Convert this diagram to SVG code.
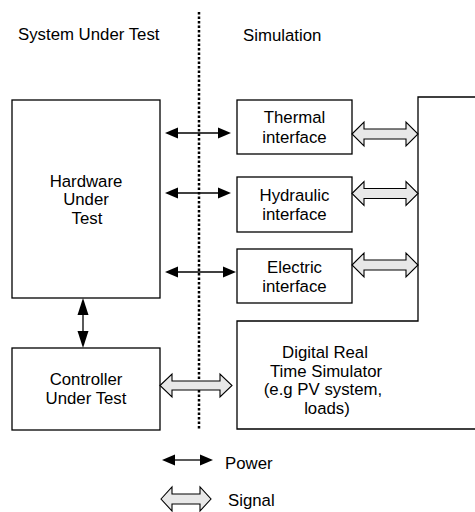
<svg xmlns="http://www.w3.org/2000/svg" width="475" height="512" viewBox="0 0 475 512">
<style>
.box{fill:#fff;stroke:#000;stroke-width:1.3}
.t{font-family:"Liberation Sans",Arial,sans-serif;font-size:16.8px;fill:#000}
.c{text-anchor:middle}
.pw{stroke:#000;stroke-width:1.3;fill:none}
.sig{fill:#e8e8e8;stroke:#000;stroke-width:1.1;stroke-linejoin:miter}
.hd{fill:#000}
</style>
<rect width="475" height="512" fill="#fff"/>
<g id="headers">
<text class="t" x="18" y="40">System Under Test</text>
<text class="t" x="243" y="41">Simulation</text>
</g>
<line id="divider" x1="199" y1="12" x2="199" y2="430" stroke="#000" stroke-width="2.5" stroke-dasharray="2.5 2"/>
<g id="hardware">
<rect class="box" x="12" y="100" width="148" height="198"/>
<text class="t c" x="86" y="187">Hardware</text>
<text class="t c" x="86" y="205">Under</text>
<text class="t c" x="87" y="224">Test</text>
</g>
<g id="controller">
<rect class="box" x="12" y="348" width="148" height="82"/>
<text class="t c" x="86" y="385">Controller</text>
<text class="t c" x="86" y="404">Under Test</text>
</g>
<g id="thermal">
<rect class="box" x="237" y="100" width="115" height="54"/>
<text class="t c" x="294.5" y="123">Thermal</text>
<text class="t c" x="294.5" y="143">interface</text>
</g>
<g id="hydraulic">
<rect class="box" x="237" y="177" width="115" height="55"/>
<text class="t c" x="294.5" y="201">Hydraulic</text>
<text class="t c" x="294.5" y="220">interface</text>
</g>
<g id="electric">
<rect class="box" x="237" y="249" width="115" height="54"/>
<text class="t c" x="294.5" y="273">Electric</text>
<text class="t c" x="294.5" y="292">interface</text>
</g>
<g id="simulator">
<polygon class="box" points="418,97 477,97 477,429 237,429 237,321 418,321"/>
<text class="t c" x="325" y="358">Digital Real</text>
<text class="t c" x="326" y="377">Time Simulator</text>
<text class="t c" x="323" y="395">(e.g PV system,</text>
<text class="t c" x="327" y="414">loads)</text>
</g>
<g id="connectors">
<line class="pw" x1="175" y1="133" x2="221" y2="133"/>
<polygon class="hd" points="165,133 178,127.5 178,138.5"/>
<polygon class="hd" points="231,133 218,127.5 218,138.5"/>
<line class="pw" x1="175" y1="193" x2="221" y2="193"/>
<polygon class="hd" points="165,193 178,187.5 178,198.5"/>
<polygon class="hd" points="231,193 218,187.5 218,198.5"/>
<line class="pw" x1="175" y1="272" x2="226" y2="272"/>
<polygon class="hd" points="165,272 178,266.5 178,277.5"/>
<polygon class="hd" points="236,272 223,266.5 223,277.5"/>
<line class="pw" x1="83" y1="310" x2="83" y2="336"/>
<polygon class="hd" points="83,298 77.5,315 88.5,315"/>
<polygon class="hd" points="83,348 77.5,331 88.5,331"/>
<polygon class="sig" points="352,134 364,122 364,129 406,129 406,122 418,134 406,146 406,139 364,139 364,146"/>
<polygon class="sig" points="352,193.5 364,181.5 364,188.5 406,188.5 406,181.5 418,193.5 406,205.5 406,198.5 364,198.5 364,205.5"/>
<polygon class="sig" points="352,265 364,253 364,260 406,260 406,253 418,265 406,277 406,270 364,270 364,277"/>
<polygon class="sig" points="160,385.5 172,374 172,381 220,381 220,374 232,385.5 220,397 220,390 172,390 172,397"/>
</g>
<g id="legend">
<line class="pw" x1="172" y1="460" x2="203" y2="460"/>
<polygon class="hd" points="162,460 175,454.5 175,465.5"/>
<polygon class="hd" points="213,460 200,454.5 200,465.5"/>
<text class="t" x="225" y="469">Power</text>
<polygon class="sig" points="161,499 172,487 172,494 200,494 200,487 211,499 200,511 200,504 172,504 172,511"/>
<text class="t" x="228" y="506">Signal</text>
</g>
</svg>
